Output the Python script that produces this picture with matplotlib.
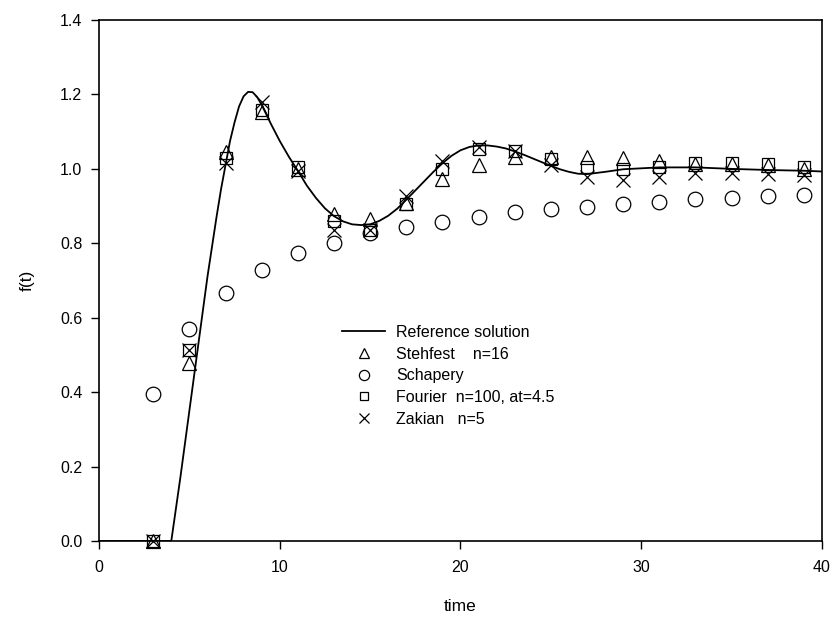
import numpy as np
import matplotlib
matplotlib.use("Agg")
import matplotlib.pyplot as plt

plt.rcParams['font.family'] = ['Liberation Sans', 'DejaVu Sans']

# reference solution
t_ref = [0, 4.0, 4.5, 5.0, 5.5, 6.0, 6.25, 6.5, 6.75, 7.0, 7.25, 7.5, 7.75, 8.0,
         8.25, 8.5, 8.75, 9.0, 9.25, 9.5, 10.0, 10.5, 11.0, 11.5, 12.0, 12.5, 13.0,
         13.5, 14.0, 14.5, 15.0, 15.5, 16.0, 16.5, 17.0, 17.5, 18.0, 18.5, 19.0,
         19.5, 20.0, 20.5, 21.0, 21.5, 22.0, 22.5, 23.0, 23.5, 24.0, 24.5, 25.0,
         25.5, 26.0, 26.5, 27.0, 28.0, 29.0, 31.0, 33.0, 35.0, 37.0, 39.0, 40.0]
f_ref = [0, 0, 0.17, 0.35, 0.53, 0.71, 0.79, 0.87, 0.945, 1.01, 1.075, 1.125,
         1.168, 1.195, 1.207, 1.206, 1.193, 1.172, 1.147, 1.122, 1.075, 1.033,
         0.995, 0.955, 0.922, 0.894, 0.873, 0.859, 0.851, 0.849, 0.851, 0.86,
         0.874, 0.893, 0.917, 0.942, 0.967, 0.992, 1.015, 1.035, 1.050, 1.059,
         1.063, 1.063, 1.060, 1.055, 1.047, 1.038, 1.028, 1.018, 1.008, 0.999,
         0.992, 0.987, 0.986, 0.992, 0.999, 1.004, 1.004, 1.0, 0.997, 0.995, 0.993]

t_pts = [3, 5, 7, 9, 11, 13, 15, 17, 19, 21, 23, 25, 27, 29, 31, 33, 35, 37, 39]
stehfest = [0.0, 0.478, 1.045, 1.152, 1.0, 0.878, 0.865, 0.908, 0.973, 1.011, 1.031,
            1.033, 1.033, 1.029, 1.02, 1.012, 1.012, 1.01, 1.0]
schapery = [0.395, 0.569, 0.667, 0.728, 0.773, 0.802, 0.827, 0.845, 0.858, 0.872,
            0.883, 0.892, 0.898, 0.905, 0.912, 0.918, 0.921, 0.926, 0.929]
fourier = [0.0, 0.512, 1.029, 1.157, 1.006, 0.861, 0.836, 0.906, 0.999, 1.053, 1.049,
           1.026, 1.006, 1.0, 1.006, 1.017, 1.017, 1.012, 1.006]
zakian = [0.0, 0.512, 1.015, 1.181, 0.993, 0.836, 0.836, 0.926, 1.02, 1.058, 1.049,
          1.011, 0.979, 0.97, 0.978, 0.988, 0.99, 0.987, 0.984]

fig = plt.figure(figsize=(8.34, 6.26), dpi=100)
ax = fig.add_axes([0.1187, 0.1358, 0.8669, 0.8322])

ax.plot(t_ref, f_ref, color='black', lw=1.3, label='Reference solution', zorder=3)
ax.plot(t_pts, stehfest, ls='none', marker='^', ms=10, mfc='none', mec='black',
        mew=0.9, label='Stehfest    n=16', clip_on=False)
ax.plot(t_pts, schapery, ls='none', marker='o', ms=10.5, mfc='none', mec='black',
        mew=0.9, label='Schapery', clip_on=False)
ax.plot(t_pts, fourier, ls='none', marker='s', ms=9, mfc='none', mec='black',
        mew=0.9, label='Fourier  n=100, at=4.5', clip_on=False)
ax.plot(t_pts, zakian, ls='none', marker='x', ms=10, mfc='none', mec='black',
        mew=0.9, label='Zakian   n=5', clip_on=False)

ax.set_xlim(0, 40)
ax.set_ylim(0, 1.4)
ax.set_xticks([0, 10, 20, 30, 40])
ax.set_yticks(np.arange(0, 1.41, 0.2))
ax.yaxis.set_major_formatter(matplotlib.ticker.FormatStrFormatter('%.1f'))
ax.tick_params(direction='out', length=6, width=1, labelsize=11.5)
ax.tick_params(axis='x', pad=8)
ax.tick_params(axis='y', pad=6)
for s in ax.spines.values():
    s.set_linewidth(1.2)

ax.set_xlabel('time', fontsize=12.5, labelpad=17)
ax.set_ylabel('f(t)', fontsize=12.5, labelpad=18)

leg = ax.legend(loc='upper left', bbox_to_anchor=(0.325, 0.43), frameon=False,
                fontsize=11.5, handlelength=2.7, handletextpad=0.7,
                labelspacing=0.42, borderpad=0, markerscale=0.7)

fig.savefig('out.png', dpi=100)
